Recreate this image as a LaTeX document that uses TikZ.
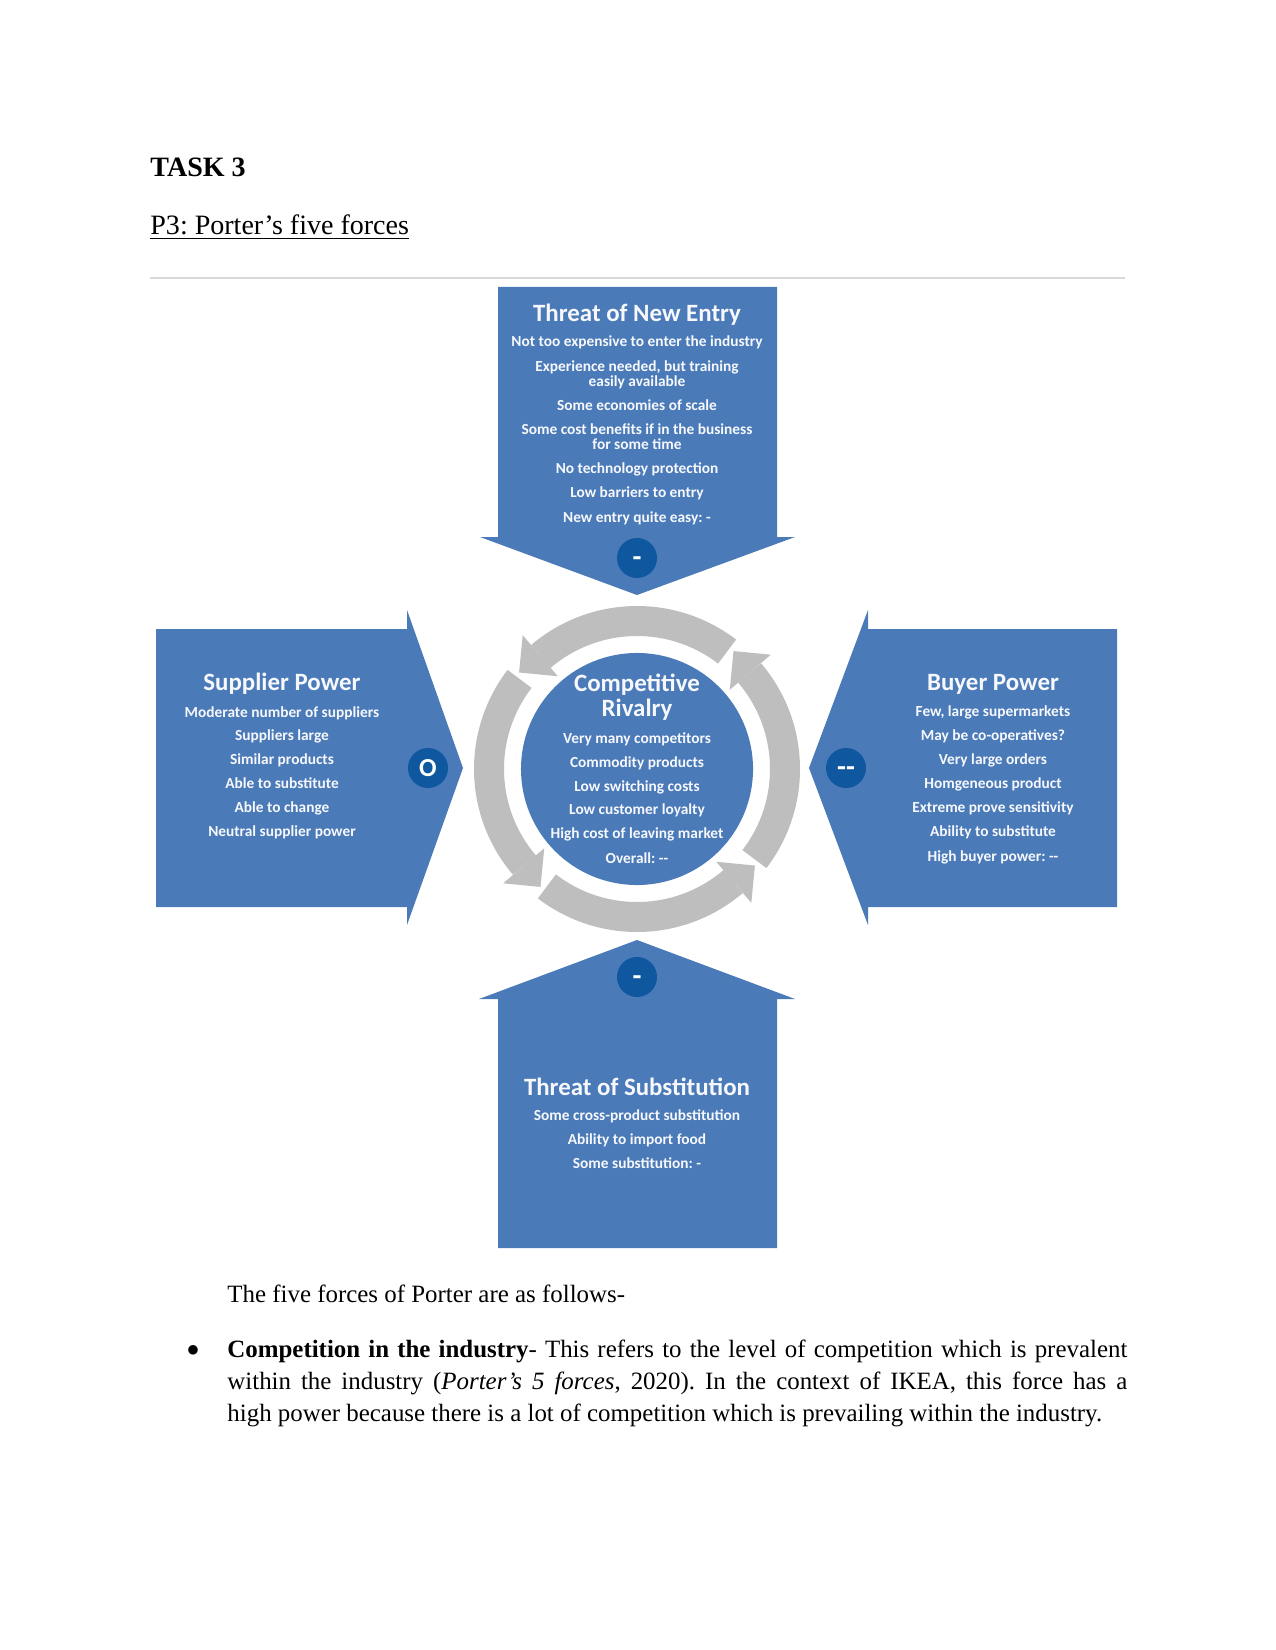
\documentclass[tikz,border=0pt]{standalone}
\usepackage{fontspec}
\setmainfont{Liberation Serif}
\newfontfamily\dfont{Carlito}
\definecolor{pblue}{RGB}{75,122,185}
\definecolor{pbadge}{RGB}{15,88,160}
\definecolor{pgray}{RGB}{190,190,190}
\definecolor{ptext}{RGB}{246,248,252}
\frenchspacing
\begin{document}
\begin{tikzpicture}[x=0.4818pt,y=-0.4818pt,
  force/.style={fill=pblue},
  badge/.style={circle,fill=pbadge,minimum size=19.3pt,inner sep=0pt},
  badgetxt/.style={text=white,font=\dfont\bfseries\fontsize{14}{14}\selectfont,inner sep=0pt},
  ttl/.style={text=ptext,font=\dfont\bfseries\fontsize{12}{13}\selectfont,anchor=base,inner sep=0pt,yshift=-1.45pt},
  item/.style={text=ptext,font=\dfont\bfseries\fontsize{7.4}{8}\selectfont,anchor=base,inner sep=0pt,yshift=-1.2pt},
  doc/.style={inner sep=0pt,anchor=base west}]
\fill[white] (0,0) rectangle (1275,1650);
\useasboundingbox (0,0) rectangle (1275,1650);

% headings
\node[doc,font=\bfseries\fontsize{13.5}{16}\selectfont] (task) at (150,177) {TASK 3};
\node[doc,font=\fontsize{13.5}{16}\selectfont] (p3) at (150,235) {\underline{P3: Porter’s five forces}};
\coordinate (r1) at (150,278);
\coordinate (r2) at (1125,278);
\draw[black!15,line width=0.7pt] (r1) -- (r2);

% force shapes
\fill[force] (498,287) -- (777,287) -- (777,537) -- (795,537) -- (637,595) -- (480,537) -- (498,537) -- cycle;
\fill[force] (156,629) -- (407,629) -- (407,610) -- (463,768) -- (407,925) -- (407,907) -- (156,907) -- cycle;
\fill[force] (1117,629) -- (868,629) -- (868,610) -- (809,768) -- (868,925) -- (868,907) -- (1117,907) -- cycle;
\fill[force] (498,1248) -- (777,1248) -- (777,999) -- (795,999) -- (637,940) -- (479,999) -- (498,999) -- cycle;

% rivalry ring
\begin{scope}[shift={(637,769)},x=0.4818pt,y=0.4818pt]
  \foreach \b in {40.5,130.5,220.5,310.5} {
    \draw[pgray,line width=14.45pt] (\b-78:148) arc[start angle=\b-78,end angle=\b,radius=71.31pt];
    \fill[pgray] (\b:122) -- (\b:176) -- (\b+10.2:152.4) -- cycle;
  }
\end{scope}
\node[circle,fill=pblue,minimum size=111.8pt,inner sep=0pt] (rival) at (637,769) {};

% badges
\node[badge] (bn) at (637,558) {};
\node[badgetxt,yshift=-1.5pt] (bnt) at (bn) {-};
\node[badge] (bs) at (428,768) {};
\node[badgetxt,font=\dfont\bfseries\fontsize{12.5}{12.5}\selectfont] (bst) at (bs) {O};
\node[badge] (bb) at (846,768) {};
\node[badgetxt,yshift=-1.5pt] (bbt) at (bb) {-{}-};
\node[badge] (bt) at (637,977) {};
\node[badgetxt,yshift=-1.5pt] (btt) at (bt) {-};

% threat of new entry
\node[ttl] (ntitle) at (637,318) {Threat of New Entry};
\foreach \yy/\txt [count=\i] in {344/Not too expensive to enter the industry, {369/Experience needed, but training}, 384/easily available, 408/Some economies of scale, 432/Some cost benefits if in the business, 447/for some time, 471/No technology protection, 495/Low barriers to entry, 520/New entry quite easy: -}
  \node[item] (n\i) at (637,\yy) {\txt};

% supplier power
\node[ttl] (stitle) at (282,687) {Supplier Power};
\foreach \yy/\txt [count=\i] in {715/Moderate number of suppliers, 738/Suppliers large, 762/Similar products, 786/Able to substitute, 810/Able to change, 834/Neutral supplier power}
  \node[item] (s\i) at (282,\yy) {\txt};

% buyer power
\node[ttl] (btitle) at (993,687) {Buyer Power};
\foreach \yy/\txt [count=\i] in {{714/Few, large supermarkets}, 738/May be co-operatives?, 762/Very large orders, 786/Homgeneous product, 810/Extreme prove sensitivity, 834/Ability to substitute, 859/High buyer power: -{}-}
  \node[item] (b\i) at (993,\yy) {\txt};

% competitive rivalry
\node[ttl] (ctitle1) at (637,688) {Competitive};
\node[ttl] (ctitle2) at (637,713) {Rivalry};
\foreach \yy/\txt [count=\i] in {741/Very many competitors, 765/Commodity products, 789/Low switching costs, 812/Low customer loyalty, 836/High cost of leaving market, 861/Overall: -{}-}
  \node[item] (c\i) at (637,\yy) {\txt};

% threat of substitution
\node[ttl] (ttitle) at (637,1092) {Threat of Substitution};
\foreach \yy/\txt [count=\i] in {1118/Some cross-product substitution, 1142/Ability to import food, 1166/Some substitution: -}
  \node[item] (t\i) at (637,\yy) {\txt};

% body text
\node[doc,font=\fontsize{12}{15.42}\selectfont] (intro) at (227,1302) {The five forces of Porter are as follows-};
\node[inner sep=0pt,anchor=base,font=\fontsize{12}{15.42}\selectfont] (bul) at (193,1363) {\scalebox{1.6}{\textbullet}};
\node[doc,text width=433.6pt,align=justify,font=\fontsize{12}{15.42}\selectfont] (para) at (227,1357)
  {\hyphenpenalty=10000\tolerance=9999 \textbf{Competition in the industry}- This refers to the level of competition which is prevalent\linebreak within the industry (\textit{Porter’s 5 forces}, 2020). In the context of IKEA, this force has a\linebreak high power because there is a lot of competition which is prevailing within the industry.};
\end{tikzpicture}
\end{document}
